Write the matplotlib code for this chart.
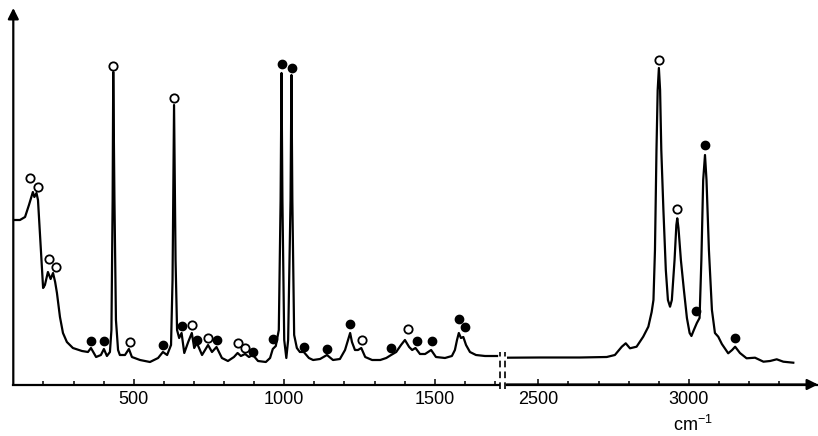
import numpy as np
import matplotlib
matplotlib.use("Agg")
import matplotlib.pyplot as plt
from matplotlib.lines import Line2D

plt.rcParams['font.family'] = ['Liberation Sans', 'DejaVu Sans']
plt.rcParams['mathtext.default'] = 'regular'

# Spectrum, low wavenumber part (cm-1, arbitrary intensity)
wn_low = [100, 122, 139, 152, 165, 170, 177, 182, 199, 205, 215, 224, 232, 239, 245,
          255, 265, 278, 298, 328, 348, 358, 375, 391, 401, 411, 421, 426, 430, 432,
          436, 441, 448, 454, 471, 484, 494, 521, 554, 581, 597, 611, 624, 629, 634,
          639, 644, 651, 659, 668, 681, 693, 701, 710, 727, 737, 747, 760, 775, 793,
          813, 833, 845, 856, 870, 883, 896, 913, 939, 953, 962, 972, 982, 988, 991,
          994, 1000, 1007, 1013, 1021, 1024, 1027, 1033, 1042, 1052, 1065, 1082, 1096,
          1119, 1142, 1162, 1185, 1202, 1212, 1219, 1225, 1235, 1245, 1256, 1269, 1292,
          1319, 1339, 1355, 1372, 1388, 1401, 1415, 1425, 1436, 1451, 1468, 1488, 1504,
          1534, 1557, 1567, 1574, 1580, 1587, 1595, 1604, 1617, 1637, 1667, 1707]
int_low = [164.5, 164.5, 167.5, 179.5, 192.5, 187.5, 191.5, 184.5, 96.5, 99.5, 112.5,
           105.5, 111.5, 102.5, 91.5, 67.5, 51.5, 42.5, 36.5, 33.5, 32.5, 36.5, 27.5,
           29.5, 35.5, 28.5, 32.5, 54.5, 184.5, 312.5, 184.5, 64.5, 34.5, 29.5, 29.5,
           35.5, 27.5, 24.5, 22.5, 26.5, 32.5, 29.5, 39.5, 104.5, 279.5, 124.5, 54.5,
           46.5, 51.5, 31.5, 42.5, 51.5, 36.5, 41.5, 29.5, 34.5, 39.5, 32.5, 37.5, 26.5,
           23.5, 27.5, 31.5, 28.5, 30.5, 27.5, 29.5, 23.5, 22.5, 26.5, 35.5, 38.5, 54.5,
           184.5, 311.5, 184.5, 44.5, 26.5, 44.5, 184.5, 309.5, 184.5, 49.5, 36.5, 32.5,
           32.5, 26.5, 24.5, 25.5, 29.5, 24.5, 25.5, 34.5, 44.5, 51.5, 42.5, 34.5, 34.5,
           36.5, 27.5, 24.5, 24.5, 26.5, 29.5, 32.5, 39.5, 44.5, 37.5, 34.5, 36.5, 30.5,
           30.5, 34.5, 27.5, 26.5, 28.5, 34.5, 44.5, 51.5, 46.5, 47.5, 39.5, 32.5, 29.5,
           28.5, 28.5]

# high wavenumber part
wn_high = [2395, 2506, 2638, 2727, 2754, 2777, 2790, 2804, 2826, 2848, 2865, 2876,
           2882, 2887, 2892, 2896, 2900, 2904, 2908, 2915, 2923, 2930, 2937, 2943,
           2952, 2958, 2961, 2965, 2973, 2983, 2993, 3002, 3008, 3016, 3026, 3035,
           3041, 3047, 3053, 3058, 3066, 3076, 3086, 3097, 3109, 3130, 3143, 3153,
           3169, 3191, 3219, 3247, 3269, 3291, 3313, 3346]
int_high = [26.8, 27, 27, 27.5, 29.5, 37.8, 41.2, 36.2, 37.8, 47.8, 57.8, 72.5, 84.5,
            134.5, 234.5, 294.5, 316.5, 294.5, 234.5, 174.5, 114.5, 84.5, 77.8, 84.5,
            124.5, 159.5, 166.2, 156.5, 124.5, 94.5, 66.5, 51.5, 48.5, 54.5, 61.5, 66.5,
            124.5, 204.5, 229.5, 204.5, 134.5, 74.5, 51.5, 47.8, 40.5, 31.2, 34.5, 37.8,
            31.5, 26.2, 26.8, 22.8, 23.5, 25.2, 22.8, 21.8]

# band assignments: open and filled circles
open_wn_low = [155, 181, 220, 241, 432, 488, 634, 695, 748, 845, 871, 1257, 1412]
open_int_low = [206.2, 197.8, 125.5, 117.2, 318.8, 42.8, 286.2, 59.5, 46.2, 41.2,
                36.2, 44.5, 55.2]
open_wn_high = [2900, 2961]
open_int_high = [324.5, 175.2]
filled_wn_low = [359, 402, 598, 659, 711, 776, 897, 964, 993, 1026, 1067, 1143, 1218,
                 1354, 1440, 1490, 1581, 1600]
filled_int_low = [43.5, 43.5, 39.5, 58.5, 44.5, 44.2, 32.8, 45.5, 320.2, 316.2, 37.8,
                  35.5, 60.5, 36.2, 43.8, 43.8, 65.5, 57.8]
filled_wn_high = [3024, 3053, 3154]
filled_int_high = [73.5, 239.5, 46.8]

low_major = [500, 1000, 1500]
low_minor = [200, 300, 400, 600, 700, 800, 900, 1100, 1200, 1300, 1400, 1600, 1700]
high_major = [2500, 3000]
high_minor = [2600, 2700, 2800, 2900, 3100, 3200, 3300]

W, H = 818, 436
fig = plt.figure(figsize=(W / 100, H / 100), dpi=100)

bottom = (H - 384.5) / H
height = 376.5 / H
ax1 = fig.add_axes([13.3 / W, bottom, 486.0 / W, height])
ax2 = fig.add_axes([506.7 / W, bottom, 311.3 / W, height])
for ax in (ax1, ax2):
    ax.set_ylim(0, 376.5)
    ax.patch.set_visible(False)
    for s in ('top', 'right', 'left'):
        ax.spines[s].set_visible(False)
    ax.spines['bottom'].set_linewidth(1.6)
    ax.set_yticks([])
    ax.tick_params(axis='x', which='both', direction='in', width=1.1, labelsize=13, pad=5)
    ax.tick_params(axis='x', which='major', length=4.2)
    ax.tick_params(axis='x', which='minor', length=2.6)

ax1.set_xticks(low_major)
ax1.set_xticks(low_minor, minor=True)
ax2.set_xticks(high_major)
ax2.set_xticks(high_minor, minor=True)

line_kw = dict(color='black', lw=1.6, solid_joinstyle='round')
ax1.plot(wn_low, int_low, **line_kw)
ax2.plot(wn_high, int_high, **line_kw)

mk = dict(linestyle='none', markersize=6, clip_on=False, zorder=5)
ax1.plot(open_wn_low, open_int_low, marker='o', mfc='white', mec='black', mew=1.3, **mk)
ax2.plot(open_wn_high, open_int_high, marker='o', mfc='white', mec='black', mew=1.3, **mk)
ax1.plot(filled_wn_low, filled_int_low, marker='o', mfc='black', mec='black', **mk)
ax2.plot(filled_wn_high, filled_int_high, marker='o', mfc='black', mec='black', **mk)
ax1.set_xlim(100, 1714.5)
ax2.set_xlim(2395, 3428)

# axis arrows
arrow = dict(arrowstyle='-|>', lw=1.6, color='black', mutation_scale=16,
             shrinkA=0, shrinkB=0)
ax1.annotate('', xy=(0, 1.0), xytext=(0, 0), xycoords='axes fraction',
             textcoords='axes fraction', arrowprops=arrow, annotation_clip=False)
ax2.annotate('', xy=(1.0, 0), xytext=(0, 0), xycoords='axes fraction',
             textcoords='axes fraction', arrowprops=arrow, annotation_clip=False)

# axis break marks
for px in (500.0, 505.5):
    fig.add_artist(Line2D([px / W, px / W], [(H - 389) / H, (H - 352) / H],
                          transform=fig.transFigure, color='black', lw=1.2,
                          linestyle=(0, (4, 2.5))))

fig.text(693 / W, 1 - 425 / H, 'cm$^{-1}$', ha='center', va='center', fontsize=13)

fig.savefig('out.png', dpi=100)
